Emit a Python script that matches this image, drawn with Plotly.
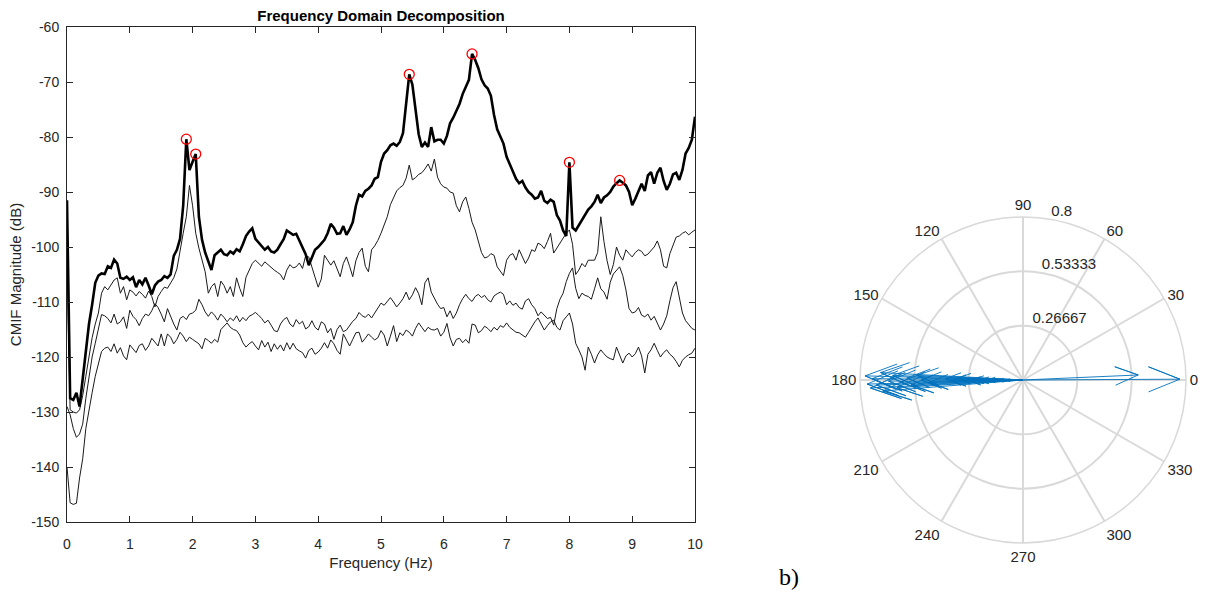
import numpy as np
import plotly.graph_objects as go

# ---------------- CMIF singular value curves (dB), sampled every 0.05 Hz ----------------
freq = np.round(np.arange(0, 10.0001, 0.05), 2)

cmif_1 = [
    -91.5, -127.5, -127.8, -126.5, -129.0, -124.0, -119.5, -114.0, -110.5, -106.5,
    -105.2, -104.8, -104.9, -103.5, -103.8, -102.3, -103.0, -105.6, -105.8, -105.4,
    -106.0, -105.5, -107.3, -106.0, -106.8, -105.6, -107.0, -108.6, -107.0, -106.3,
    -106.0, -105.3, -105.6, -105.0, -101.6, -100.5, -98.5, -92.5, -80.4, -86.0,
    -84.5, -83.1, -94.5, -98.7, -101.0, -102.5, -104.2, -101.5, -101.0, -100.5,
    -101.3, -101.5, -100.8, -101.2, -100.4, -100.8, -99.5, -98.0, -97.2, -96.6,
    -98.5, -99.2, -99.8, -100.5, -100.0, -100.8, -101.0, -100.5, -99.5, -98.6,
    -97.0, -97.4, -97.8, -97.6, -98.8, -100.0, -101.3, -103.3, -102.0, -100.5,
    -100.0, -99.3, -98.7, -97.5, -95.8, -96.5, -97.6, -97.5, -96.2, -97.8,
    -96.8, -95.5, -92.5, -90.5, -90.8, -89.8, -89.4, -88.8, -87.6, -87.3,
    -84.5, -83.0, -82.4, -81.5, -81.2, -81.6, -80.9, -79.3, -74.5, -68.6,
    -70.5, -75.0, -79.5, -81.8, -81.0, -81.8, -78.2, -80.8, -80.5, -80.5,
    -81.2, -79.8, -77.5, -76.5, -75.3, -74.0, -72.2, -70.8, -69.6, -64.9,
    -66.0, -67.5, -69.5, -70.6, -71.2, -72.5, -76.0, -78.6, -79.8, -81.2,
    -83.6, -85.0, -86.5, -87.6, -88.4, -88.0, -89.2, -90.0, -90.5, -91.2,
    -91.0, -89.8, -91.6, -92.0, -91.4, -91.8, -94.2, -95.2, -97.0, -98.0,
    -84.6, -96.5, -97.0, -96.0, -95.1, -94.0, -93.2, -92.6, -91.8, -90.5,
    -92.0, -91.0, -90.6, -90.0, -89.0, -88.4, -87.9, -88.3, -88.8, -90.0,
    -92.4, -91.2, -90.0, -88.5, -89.8, -87.0, -86.4, -88.5, -86.5, -85.6,
    -88.0, -89.6, -88.5, -86.8, -86.5, -87.8, -86.0, -83.0, -82.0, -80.5,
    -76.3,
]

cmif_2 = [
    -102.7, -129.6, -130.0, -130.2, -129.6, -127.0, -123.5, -119.8, -116.5, -114.0,
    -112.0, -108.4, -107.2, -107.8, -107.0, -106.0, -105.6, -108.4, -107.2, -109.6,
    -107.8, -108.2, -108.9, -108.1, -108.6, -109.3, -108.0, -109.0, -110.9, -109.0,
    -108.1, -107.3, -107.5, -106.5, -105.6, -104.0, -100.5, -97.5, -94.5, -88.8,
    -92.5, -97.5, -100.2, -102.5, -104.5, -108.4, -107.2, -106.6, -109.0, -106.2,
    -107.0, -108.4, -107.2, -109.0, -105.6, -107.5, -109.0, -105.5, -104.2, -103.0,
    -102.4, -102.9, -103.5, -102.7, -103.2, -103.8, -104.2, -104.6, -105.0, -106.0,
    -104.2, -103.2, -103.8, -103.6, -102.9, -103.9, -101.6, -101.8, -103.8, -105.5,
    -107.3, -105.8, -101.5, -102.5, -103.3, -102.5, -104.0, -105.4, -103.0, -101.8,
    -103.5, -105.4, -102.5, -101.0, -100.2, -103.5, -104.5, -100.5, -99.8, -98.8,
    -97.5, -96.0, -94.5, -92.3, -91.0, -89.8, -89.2, -88.8, -87.5, -85.1,
    -87.8, -87.4, -86.8, -86.5, -85.8, -84.9, -86.2, -84.0, -87.3, -88.5,
    -89.1, -89.3, -90.0, -90.2, -92.5, -93.6, -91.8, -90.9, -93.0, -95.5,
    -96.9, -99.2, -101.0, -102.0, -101.8, -101.2, -101.5, -103.6, -104.5, -105.2,
    -102.4, -101.5, -101.2, -102.4, -100.5, -101.8, -103.0, -102.0, -100.5, -100.8,
    -99.3, -99.6, -100.3, -99.0, -97.5, -101.1, -100.2, -99.3, -98.4, -97.5,
    -96.9, -99.5, -105.0, -104.2, -103.0, -103.6, -102.4, -102.4, -102.4, -101.0,
    -94.5, -99.0, -102.5, -105.0, -103.2, -100.0, -101.5, -102.4, -100.5, -101.2,
    -101.8, -101.0, -100.5, -100.8, -101.6, -101.3, -100.6, -100.0, -98.9, -100.5,
    -103.5, -103.8, -101.2, -99.8, -98.2, -98.0, -97.5, -97.2, -97.8, -97.3,
    -96.9,
]

cmif_3 = [
    -129.0, -130.5, -133.0, -134.6, -134.0, -132.2, -127.5, -123.5, -120.0, -117.5,
    -114.8, -112.3, -112.5, -113.0, -113.8, -112.2, -114.0, -113.6, -112.7, -114.8,
    -111.5, -112.6, -113.2, -114.3, -113.0, -112.2, -112.5, -111.6, -110.3, -111.0,
    -112.2, -113.6, -111.2, -112.7, -114.0, -115.1, -113.0, -112.6, -113.2, -112.2,
    -112.0, -111.5, -109.5, -110.5, -111.8, -112.6, -111.8, -112.4, -113.3, -112.2,
    -112.8, -113.6, -112.9, -113.4, -112.5, -113.6, -112.8, -113.4, -112.6, -112.3,
    -111.9, -112.4, -113.0, -113.8, -113.3, -114.2, -115.2, -115.4, -114.0, -113.2,
    -112.8, -114.0, -114.5, -113.2, -114.0, -113.5, -114.9, -114.5, -113.4, -114.6,
    -115.1, -113.6, -114.0, -115.6, -114.8, -116.8, -115.0, -114.2, -115.4, -115.1,
    -114.3, -113.5, -113.0, -111.9, -112.5, -112.8, -112.2, -112.9, -112.0, -111.2,
    -110.2, -110.6, -109.8, -109.2, -110.0, -110.9, -110.2, -109.4, -108.2, -109.6,
    -108.7, -107.4, -108.5, -110.5, -106.5, -105.6, -108.2, -109.4, -110.4, -111.2,
    -111.0, -112.7, -111.6, -113.0, -112.0, -110.5, -109.4, -108.6, -109.4, -109.9,
    -109.0, -108.6, -109.2, -108.8, -109.6, -110.0, -108.9, -108.5, -108.2, -108.6,
    -110.5, -109.8, -110.6, -110.2, -111.0, -111.3, -109.8, -109.4, -110.5, -111.2,
    -112.5, -111.8, -112.4, -113.0, -112.8, -114.2, -111.2, -109.5, -108.4, -106.3,
    -104.8, -103.8, -107.5, -109.4, -108.4, -108.8, -109.0, -109.5, -107.6, -105.6,
    -107.6, -108.2, -109.5, -106.4, -104.9, -104.2, -103.6, -105.2, -107.8, -111.2,
    -112.0, -111.8, -111.0, -112.4, -112.7, -112.2, -113.3, -112.6, -114.0, -115.1,
    -114.0, -112.5, -109.8, -107.4, -106.3, -109.0, -112.0, -113.4, -114.2, -114.8,
    -115.1,
]

cmif_4 = [
    -140.0, -146.5, -146.8, -146.6, -142.0, -138.5, -133.0, -129.5, -126.5, -123.5,
    -121.0, -119.0, -118.4, -118.2, -119.0, -117.6, -119.3, -118.3, -119.8, -120.5,
    -117.8, -118.6, -119.2, -117.9, -117.6, -118.8, -118.0, -116.6, -117.4, -118.0,
    -115.8, -118.0, -115.8, -116.4, -117.6, -116.8, -115.5, -116.2, -117.2, -116.4,
    -116.8, -117.2, -117.6, -118.5, -116.6, -117.0, -117.5, -116.8, -117.3, -115.0,
    -114.4, -113.8, -114.6, -115.0, -115.2, -116.0, -117.4, -118.2, -117.6, -117.2,
    -118.0, -118.7, -117.0, -118.2, -117.3, -119.0, -117.6, -118.6, -117.8, -118.9,
    -117.4, -118.6, -117.5, -118.5, -118.9, -119.2, -120.2, -118.8, -118.4, -119.5,
    -119.1, -118.4, -117.4, -118.4, -116.9, -117.6, -118.8, -119.5, -115.8, -116.8,
    -118.0, -116.8, -115.6, -115.5, -117.3, -116.6, -115.8, -116.4, -116.9, -116.5,
    -115.2, -116.0, -118.0, -116.2, -114.3, -117.2, -115.6, -116.1, -115.1, -115.5,
    -116.2, -114.8, -113.8, -114.6, -115.4, -114.6, -115.0, -115.1, -114.8, -116.2,
    -115.5, -113.9, -116.5, -118.0, -116.8, -116.6, -117.4, -116.8, -117.5, -114.0,
    -114.2, -115.6, -115.2, -114.4, -114.8, -115.4, -114.6, -115.1, -114.3, -114.6,
    -113.8, -114.6, -115.1, -115.5, -115.6, -116.0, -116.4, -115.5, -114.5, -113.6,
    -112.9, -114.0, -115.1, -114.3, -113.6, -113.3, -114.6, -115.1, -113.4, -112.7,
    -112.0, -114.0, -117.5, -118.7, -120.0, -122.4, -118.2, -119.5, -121.1, -119.6,
    -118.7, -119.4, -120.0, -120.3, -120.5, -118.2, -119.6, -121.1, -119.8, -119.3,
    -120.0, -119.4, -118.2, -119.8, -122.9, -119.5, -118.7, -117.5, -118.8, -120.0,
    -119.2, -118.7, -119.5, -120.0, -120.8, -121.8, -120.6, -120.0, -119.6, -119.3,
    -118.4,
]

# picked peaks on the first singular value
peak_freq = [1.90, 2.05, 5.45, 6.45, 8.00, 8.80]

# axis ticks
x_ticks = list(range(0, 11))
y_ticks = list(range(-150, -59, 10))

# ---------------- mode shape components for the compass plot ----------------
arrow_mag = [0.775, 0.765, 0.75, 0.74, 0.72, 0.70, 0.69, 0.66, 0.64, 0.62,
             0.60, 0.57, 0.55, 0.52, 0.50, 0.46, 0.38, 0.35, 0.32, 0.26,
             0.24, 0.21, 0.17, 0.12, 0.08, 0.77, 0.566]
arrow_deg = [178.5, 181.5, 183.0, 179.5, 182.0, 177.0, 184.5, 180.5, 178.0, 183.5,
             181.0, 179.0, 182.5, 177.5, 180.0, 181.5, 179.0, 180.5, 178.5, 181.0,
             179.5, 180.5, 179.8, 180.3, 180.0, 0.3, 2.5]

radial_ticks = [0.26667, 0.53333, 0.8]
radial_labels = ["0.26667", "0.53333", "0.8"]
angle_ticks = list(range(0, 360, 30))

for series in (cmif_1, cmif_2, cmif_3, cmif_4):
    assert len(series) == len(freq)

FONT = "Liberation Sans, Arial, Helvetica, sans-serif"
AX = "#262626"

fig = go.Figure()

# thin lower singular values
for series in (cmif_4, cmif_3, cmif_2):
    fig.add_trace(go.Scatter(x=freq, y=series, mode="lines",
                             line=dict(color="#1a1a1a", width=1.0),
                             showlegend=False, hoverinfo="skip"))

# first singular value, thick
fig.add_trace(go.Scatter(x=freq, y=cmif_1, mode="lines",
                         line=dict(color="black", width=2.6),
                         showlegend=False))

# peak markers
idx = [int(round(f / 0.05)) for f in peak_freq]
fig.add_trace(go.Scatter(x=peak_freq, y=[cmif_1[i] for i in idx], mode="markers",
                         marker=dict(symbol="circle-open", size=10, color="red",
                                     line=dict(width=1.3, color="red")),
                         showlegend=False))

# compass arrows: shaft plus two head strokes, built from each complex value
arrow_shape = np.array([0, 1, 0.8, 1, 0.8]) + 1j * np.array([0, 0, 0.08, 0, -0.08])
r_pts, t_pts = [], []
for m, d in zip(arrow_mag, arrow_deg):
    z = m * np.exp(1j * np.deg2rad(d))
    pts = arrow_shape * z
    for k, p in enumerate(pts):
        r_pts.append(abs(p))
        t_pts.append(np.rad2deg(np.angle(p)) if k > 0 else d)
    r_pts.append(None)
    t_pts.append(None)

fig.add_trace(go.Scatterpolar(r=r_pts, theta=t_pts, mode="lines",
                              line=dict(color="#0072BD", width=0.9),
                              connectgaps=False, showlegend=False, hoverinfo="skip"))

# radial tick labels placed along the 80 degree direction
fig.add_trace(go.Scatterpolar(r=radial_ticks, theta=[80] * len(radial_ticks),
                              mode="text", text=radial_labels,
                              textposition="top right",
                              textfont=dict(family=FONT, size=15, color=AX),
                              showlegend=False, hoverinfo="skip"))

fig.update_layout(
    width=1211, height=600,
    margin=dict(l=0, r=0, t=0, b=0),
    paper_bgcolor="white", plot_bgcolor="white",
    font=dict(family=FONT, color=AX),
    title=dict(text="<b>Frequency Domain Decomposition</b>",
               x=381 / 1211, xanchor="center", y=1 - 16 / 600, yanchor="middle",
               font=dict(family=FONT, size=15, color="black")),
    xaxis=dict(domain=[67 / 1211, 695 / 1211], range=[0, 10], automargin=False,
               tickmode="array", tickvals=x_ticks, ticktext=[str(v) for v in x_ticks],
               ticks="inside", ticklen=6, ticklabelstandoff=9,
               tickcolor=AX, showline=True, linecolor=AX, linewidth=1,
               mirror="ticks", showgrid=False, zeroline=False,
               tickfont=dict(family=FONT, size=14, color=AX),
               title=dict(text="Frequency (Hz)", standoff=6,
                          font=dict(family=FONT, size=15, color=AX))),
    yaxis=dict(domain=[78 / 600, 573 / 600], range=[-150, -60], automargin=False,
               tickmode="array", tickvals=y_ticks, ticktext=[str(v) for v in y_ticks],
               ticks="inside", ticklen=6, ticklabelstandoff=4,
               tickcolor=AX, showline=True, linecolor=AX, linewidth=1,
               mirror="ticks", showgrid=False, zeroline=False,
               tickfont=dict(family=FONT, size=14, color=AX),
               title=dict(text="CMIF Magnitude (dB)", standoff=5,
                          font=dict(family=FONT, size=15, color=AX))),
    polar=dict(
        domain=dict(x=[860 / 1211, 1186 / 1211], y=[57 / 600, 383 / 600]),
        bgcolor="white",
        angularaxis=dict(rotation=0, direction="counterclockwise",
                         tickmode="array", tickvals=angle_ticks,
                         ticktext=[str(a) for a in angle_ticks],
                         ticks="", showline=True, linecolor="#d9d9d9", linewidth=1.5,
                         gridcolor="#d9d9d9", gridwidth=1.5,
                         tickfont=dict(family=FONT, size=15, color=AX)),
        radialaxis=dict(range=[0, 0.8], tickvals=radial_ticks,
                        showticklabels=False, showline=False, ticks="",
                        gridcolor="#d9d9d9", gridwidth=1.5),
    ),
    annotations=[dict(text="b)", x=789 / 1211, y=1 - 577 / 600, xref="paper",
                      yref="paper", xanchor="center", yanchor="middle",
                      showarrow=False,
                      font=dict(family="Liberation Serif, Times New Roman, serif",
                                size=24, color="black"))],
)

fig.write_html("out.html")
